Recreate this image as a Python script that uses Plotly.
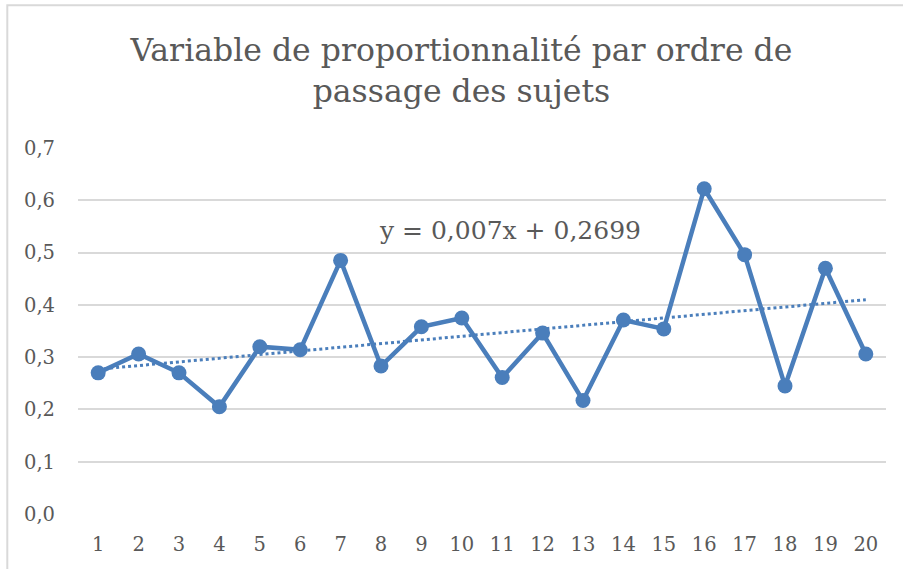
import plotly.graph_objects as go

# Ordre de passage des sujets et variable de proportionnalité mesurée
ordre = list(range(1, 21))
valeurs = [0.270, 0.306, 0.270, 0.205, 0.320, 0.314, 0.485, 0.283, 0.358, 0.375,
           0.261, 0.346, 0.217, 0.371, 0.354, 0.622, 0.496, 0.245, 0.470, 0.306]

# Courbe de tendance linéaire (équation affichée)
pente = 0.007
ordonnee = 0.2699
tendance = [pente * x + ordonnee for x in ordre]

y_ticks = [0.0, 0.1, 0.2, 0.3, 0.4, 0.5, 0.6, 0.7]

BLEU = "#4a7ebb"
GRIS_TEXTE = "#595959"
GRIS_GRILLE = "#d9d9d9"
POLICE = "DejaVu Serif"

fig = go.Figure()

fig.add_trace(go.Scatter(
    x=ordre, y=tendance, mode="lines",
    line=dict(color=BLEU, width=3, dash="dot"),
    hoverinfo="skip", showlegend=False,
))

fig.add_trace(go.Scatter(
    x=ordre, y=valeurs, mode="lines+markers",
    line=dict(color=BLEU, width=4.5),
    marker=dict(color=BLEU, size=15),
    showlegend=False,
))

fig.add_annotation(
    x=11.2, y=0.542, xref="x", yref="y",
    text=f"y = {pente:.3f}x + {ordonnee:.4f}".replace(".", ","),
    showarrow=False,
    font=dict(family=POLICE, size=25, color=GRIS_TEXTE),
)

# Cadre du graphique
fig.add_shape(
    type="rect", xref="paper", yref="paper",
    x0=-0.0875, x1=1.05, y0=-0.2, y1=1.39,
    line=dict(color=GRIS_GRILLE, width=2), fillcolor="rgba(0,0,0,0)",
    layer="below",
)

fig.update_layout(
    width=903, height=569,
    margin=dict(l=78, r=17, t=148, b=55),
    paper_bgcolor="white", plot_bgcolor="white",
    separators=",.",
    title=dict(
        text="Variable de proportionnalité par ordre de<br>passage des sujets",
        x=0.511, xanchor="center", y=0.892, yanchor="top",
        font=dict(family=POLICE, size=31.5, color=GRIS_TEXTE),
    ),
    xaxis=dict(
        range=[0.5, 20.5], tickmode="array", tickvals=ordre,
        ticktext=[str(v) for v in ordre],
        showgrid=False, zeroline=False, showline=False,
        tickfont=dict(family=POLICE, size=19.5, color=GRIS_TEXTE),
        ticks="", ticklabelstandoff=16,
    ),
    yaxis=dict(
        range=[0, 0.7], tickmode="array", tickvals=y_ticks,
        tickformat=".1f",
        showgrid=True, gridcolor=GRIS_GRILLE, gridwidth=1.5,
        zeroline=False, showline=False,
        tickfont=dict(family=POLICE, size=19.5, color=GRIS_TEXTE),
        ticks="", ticklabelstandoff=22,
    ),
)

fig.write_html("out.html")
